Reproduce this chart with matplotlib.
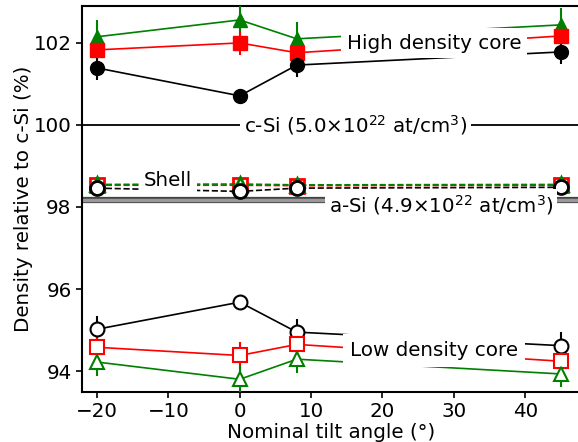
import matplotlib
matplotlib.use("Agg")
import matplotlib.pyplot as plt
import numpy as np

angles = [-20, 0, 8, 45]

# High density core
high_black = [101.39, 100.71, 101.46, 101.78]
high_red = [101.83, 102.00, 101.76, 102.17]
high_green = [102.15, 102.56, 102.10, 102.44]
high_black_err = [0.3, 0.15, 0.3, 0.3]
high_red_err = [0.3, 0.3, 0.3, 0.3]
high_green_err = [0.4, 0.4, 0.4, 0.4]

# Shell
shell_black = [98.46, 98.38, 98.46, 98.48]
shell_red = [98.53, 98.53, 98.52, 98.53]
shell_green = [98.55, 98.56, 98.54, 98.55]

# Low density core
low_black = [95.02, 95.68, 94.95, 94.62]
low_red = [94.58, 94.38, 94.65, 94.24]
low_green = [94.22, 93.80, 94.29, 93.93]
low_black_err = [0.33, 0.15, 0.33, 0.33]
low_red_err = [0.33, 0.33, 0.33, 0.33]
low_green_err = [0.33, 0.33, 0.33, 0.33]

c_si = 100.0
a_si = 98.16

fig = plt.figure(figsize=(5.78, 4.42), dpi=100)
ax = fig.add_axes([82/578, 50/442, 1.005 - 82/578, (392-6)/442])

ms = 10
# reference lines
ax.axhline(c_si, color='black', lw=1.3, zorder=1)
ax.axhline(a_si, color='#444444', lw=4.5, zorder=1)
ax.axhline(a_si, color='#999999', lw=2.5, zorder=1)

# High density core (filled)
for y, e, c, m in [(high_green, high_green_err, 'green', '^'),
                   (high_red, high_red_err, 'red', 's'),
                   (high_black, high_black_err, 'black', 'o')]:
    ax.errorbar(angles, y, yerr=e, color=c, marker=m, ms=ms, lw=1.2,
                elinewidth=1.5, capsize=0, zorder=3)

# Shell (open, dashed)
for y, c, m in [(shell_red, 'red', 's'), (shell_green, 'green', '^'),
                (shell_black, 'black', 'o')]:
    ax.plot(angles, y, color=c, marker=m, ms=ms, mfc='white', mew=2,
            ls='--', lw=1.2, zorder=3)

# Low density core (open)
for y, e, c, m in [(low_black, low_black_err, 'black', 'o'),
                   (low_red, low_red_err, 'red', 's'),
                   (low_green, low_green_err, 'green', '^')]:
    ax.errorbar(angles, y, yerr=e, color=c, marker=m, ms=ms, mfc='white',
                mew=1.5, lw=1.2, elinewidth=1.5, capsize=0, zorder=3)

fs = 14.3
box4 = dict(facecolor='white', edgecolor='none', pad=4)
box5 = dict(facecolor='white', edgecolor='none', pad=5)
box3 = dict(facecolor='white', edgecolor='none', pad=3)
ax.text(27.2, 101.99, 'High density core', ha='center', va='center',
        fontsize=fs, bbox=box4, zorder=4)
ax.text(16.2, 100.0, r'c-Si (5.0$\times$10$^{22}$ at/cm$^{3}$)', ha='center',
        va='center', fontsize=fs, bbox=box3, zorder=4)
ax.text(-10.0, 98.64, 'Shell', ha='center', va='center', fontsize=fs,
        bbox=box3, zorder=4)
ax.text(28.2, 98.05, r'a-Si (4.9$\times$10$^{22}$ at/cm$^{3}$)', ha='center',
        va='center', fontsize=fs, bbox=box3, zorder=4)
ax.text(27.2, 94.5, 'Low density core', ha='center', va='center',
        fontsize=fs, bbox=box5, zorder=4)

ax.set_xlim(-22.1, 47.8)
ax.set_ylim(93.49, 102.9)
ax.set_xticks([-20, -10, 0, 10, 20, 30, 40])
ax.set_yticks([94, 96, 98, 100, 102])
ax.tick_params(labelsize=fs, width=1.2, length=4)
for s in ax.spines.values():
    s.set_linewidth(1.5)
ax.set_xlabel('Nominal tilt angle (°)', fontsize=fs, labelpad=1)
ax.set_ylabel('Density relative to c-Si (%)', fontsize=fs)
ax.yaxis.set_label_coords(-0.098, 0.5)

fig.savefig('out.png', dpi=100)
